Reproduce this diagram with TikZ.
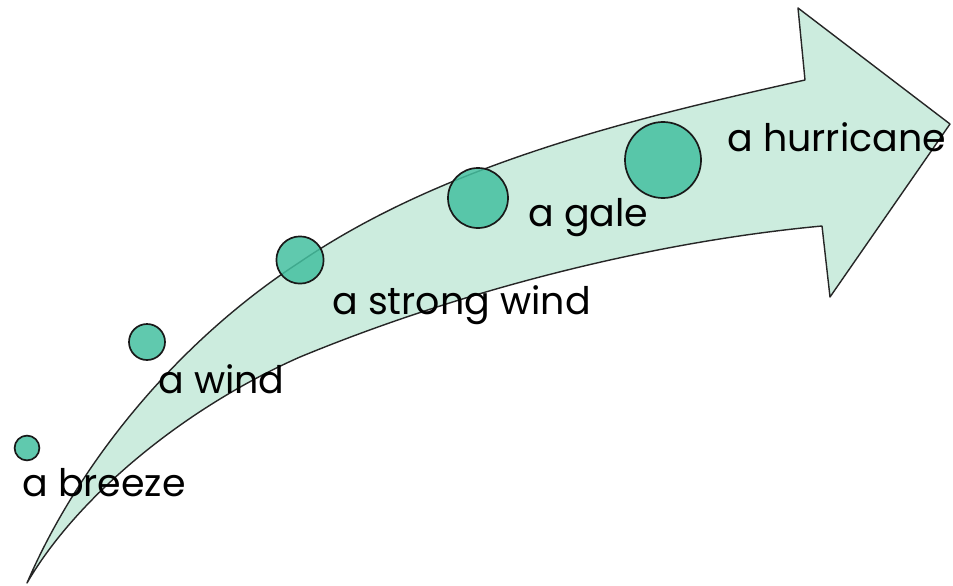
\documentclass[tikz,border=0pt]{standalone}
\usepackage{fontspec}
\setmainfont{Poppins}
\usepackage{xcolor}
\definecolor{colArrow}{RGB}{204,236,222}
\definecolor{colBubble}{RGB}{68,192,160}
\usetikzlibrary{positioning, calc}
\tikzset{
	windarrow/.style={draw=black!85, line width=1pt, fill=colArrow, line join=round},
	bubble/.style={circle, draw=black!90, line width=1.2pt, fill=colBubble, fill opacity=0.85, inner sep=0pt, minimum size=#1},
	windlabel/.style={anchor=base west, inner sep=0pt, font=\fontsize{27}{32}\selectfont},
}

\begin{document}
\begin{tikzpicture}[x=0.025cm, y=-0.025cm]
				\useasboundingbox (0,0) rectangle (953,585);
				% curved arrow
				\draw[windarrow] (27,583) .. controls (80,460) and (180,340) .. (300,262)
					.. controls (450,160) and (650,115) .. (805,80)
					-- (798,8) -- (950,124) -- (830,297) -- (822,226)
					.. controls (640,243) and (450,295) .. (300,357)
					.. controls (180,410) and (75,500) .. cycle;
				% bubbles
				\node[bubble=0.62cm] (breeze) at (27,448) {};
				\node[bubble=0.9cm] (wind) at (147,342) {};
				\node[bubble=1.18cm] (strong) at (300,260) {};
				\node[bubble=1.5cm] (gale) at (478,198) {};
				\node[bubble=1.9cm] (hurricane) at (663,160) {};
				% labels
				\node[windlabel] (lbreeze) at (22,496) {a breeze};
				\node[windlabel] (lwind) at (158,393) {a wind};
				\node[windlabel] (lstrong) at (332,314) {a strong wind};
				\node[windlabel] (lgale) at (528,226) {a gale};
				\node[windlabel] (lhurricane) at (727,151) {a hurricane};
			\end{tikzpicture}
\end{document}
